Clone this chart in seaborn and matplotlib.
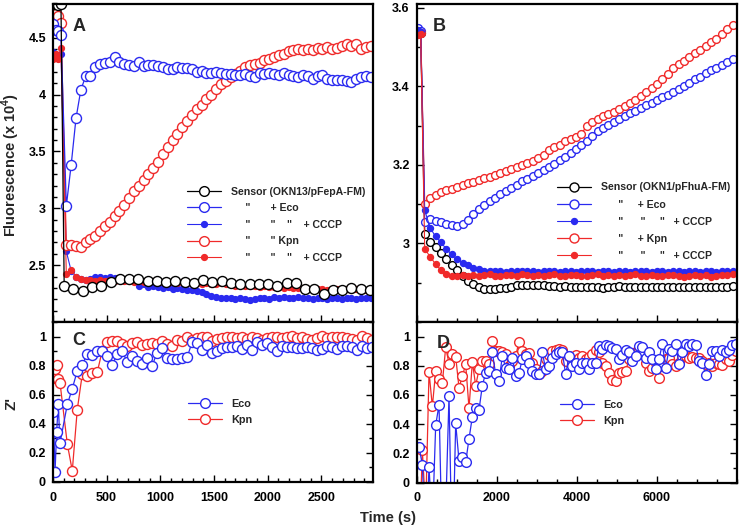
import numpy as np
import matplotlib
matplotlib.use("Agg")
import matplotlib.pyplot as plt
import seaborn as sns
from matplotlib.lines import Line2D
from matplotlib.ticker import MultipleLocator, FuncFormatter, FixedLocator

sns.set_style("ticks")
plt.rcParams["font.family"] = ["Liberation Sans", "DejaVu Sans"]
plt.rcParams["font.weight"] = "bold"
plt.rcParams["mathtext.fontset"] = "custom"
plt.rcParams["mathtext.rm"] = "Liberation Sans:bold"
plt.rcParams["mathtext.bf"] = "Liberation Sans:bold"

# ---------------- Panel A data (fluorescence x 10^4, OKN13/pFepA-FM) ----------------
tA_early = [0, 25, 50, 75]
A_black_early = [4.80, 4.80, 4.79, 4.80]
A_eco_early = [4.62, 4.57, 4.56, 4.52]
A_kpn_early = [4.66, 4.71, 4.69, 4.63]
A_eco_cccp_early = [4.37, 4.35, 4.33, 4.36]
A_kpn_cccp_early = [4.31, 4.36, 4.31, 4.41]

tA_start, tA_step = 125, 45          # sampling of the dense series
tA_black_start, tA_black_step = 105, 86.3

A_black = [2.32, 2.29, 2.27, 2.31, 2.32, 2.35, 2.375, 2.375, 2.38, 2.36,
           2.36, 2.35, 2.36, 2.35, 2.34, 2.37, 2.35, 2.36, 2.34, 2.33,
           2.33, 2.33, 2.33, 2.32, 2.34, 2.34, 2.29, 2.29, 2.25, 2.28,
           2.28, 2.30, 2.29, 2.28]
A_eco = [3.02, 3.38, 3.79, 4.04, 4.16, 4.165, 4.24, 4.27, 4.28, 4.29,
         4.33, 4.29, 4.27, 4.26, 4.25, 4.29, 4.25, 4.26, 4.26, 4.25,
         4.24, 4.22, 4.22, 4.24, 4.23, 4.23, 4.22, 4.20, 4.21, 4.19,
         4.19, 4.20, 4.19, 4.18, 4.18, 4.17, 4.17, 4.18, 4.16, 4.15,
         4.19, 4.18, 4.19, 4.18, 4.17, 4.19, 4.17, 4.16, 4.15, 4.17,
         4.16, 4.14, 4.16, 4.17, 4.14, 4.13, 4.13, 4.13, 4.12, 4.11,
         4.14, 4.15, 4.16, 4.15]
A_kpn = [2.68, 2.68, 2.67, 2.66, 2.70, 2.73, 2.76, 2.80, 2.84, 2.88,
         2.93, 2.98, 3.03, 3.09, 3.15, 3.20, 3.25, 3.30, 3.35, 3.41,
         3.48, 3.54, 3.60, 3.65, 3.71, 3.77, 3.82, 3.87, 3.91, 3.96,
         4.00, 4.05, 4.09, 4.12, 4.15, 4.18, 4.21, 4.24, 4.26, 4.27,
         4.28, 4.30, 4.31, 4.33, 4.35, 4.36, 4.38, 4.39, 4.40, 4.39,
         4.40, 4.39, 4.41, 4.40, 4.42, 4.40, 4.41, 4.43, 4.44, 4.43,
         4.44, 4.40, 4.42, 4.43]
A_eco_cccp = [2.62, 2.45, 2.40, 2.38, 2.37, 2.38, 2.40, 2.40, 2.39, 2.40,
              2.39, 2.38, 2.37, 2.38, 2.36, 2.32, 2.33, 2.31, 2.32, 2.31,
              2.30, 2.31, 2.29, 2.30, 2.29, 2.28, 2.28, 2.27, 2.26, 2.25,
              2.23, 2.22, 2.21, 2.21, 2.21, 2.20, 2.21, 2.20, 2.19, 2.20,
              2.21, 2.21, 2.20, 2.22, 2.21, 2.22, 2.21, 2.21, 2.22, 2.21,
              2.21, 2.20, 2.21, 2.21, 2.20, 2.21, 2.21, 2.20, 2.21, 2.21,
              2.20, 2.21, 2.21, 2.21]
A_kpn_cccp = [2.42, 2.46, 2.40, 2.38, 2.37, 2.37, 2.36, 2.37, 2.36, 2.37,
              2.36, 2.37, 2.36, 2.36, 2.35, 2.36, 2.35, 2.35, 2.36, 2.35,
              2.35, 2.34, 2.35, 2.34, 2.35, 2.34, 2.34, 2.34, 2.33, 2.34,
              2.33, 2.33, 2.34, 2.33, 2.33, 2.32, 2.33, 2.32, 2.32, 2.32,
              2.31, 2.32, 2.31, 2.31, 2.31, 2.30, 2.31, 2.30, 2.30, 2.30,
              2.29, 2.30, 2.29, 2.29, 2.28, 2.29, 2.29, 2.28, 2.29, 2.28,
              2.29, 2.28, 2.28, 2.28]

# ---------------- Panel B data (OKN1/pFhuA-FM) ----------------
tB_early = [40, 100]
B_black_early = [3.540, 3.536]
B_eco_early = [3.548, 3.541]
B_kpn_early = [3.535, 3.537]
B_eco_cccp_early = [3.545, 3.538]
B_kpn_cccp_early = [3.532, 3.534]
tB_start, tB_step = 200, 135

B_black = [3.025, 3.003, 2.990, 2.977, 2.960, 2.946, 2.932, 2.918, 2.905, 2.897,
           2.890, 2.884, 2.883, 2.884, 2.886, 2.887, 2.889, 2.893, 2.895, 2.894,
           2.893, 2.894, 2.893, 2.892, 2.891, 2.890, 2.891, 2.890, 2.889, 2.890,
           2.888, 2.889, 2.890, 2.887, 2.888, 2.890, 2.891, 2.889, 2.888, 2.890,
           2.889, 2.890, 2.888, 2.889, 2.890, 2.889, 2.888, 2.889, 2.890, 2.889,
           2.888, 2.889, 2.890, 2.889, 2.888, 2.889, 2.890, 2.891]
B_eco = [3.055, 3.062, 3.058, 3.054, 3.050, 3.046, 3.045, 3.050, 3.060, 3.075,
         3.087, 3.098, 3.108, 3.117, 3.126, 3.134, 3.142, 3.150, 3.158, 3.165,
         3.172, 3.180, 3.186, 3.194, 3.203, 3.212, 3.221, 3.230, 3.240, 3.250,
         3.262, 3.274, 3.286, 3.294, 3.302, 3.310, 3.318, 3.325, 3.332, 3.338,
         3.345, 3.352, 3.358, 3.365, 3.372, 3.379, 3.386, 3.394, 3.402, 3.410,
         3.418, 3.425, 3.433, 3.441, 3.448, 3.455, 3.462, 3.470]
B_kpn = [3.100, 3.115, 3.124, 3.130, 3.136, 3.140, 3.145, 3.149, 3.153, 3.157,
         3.161, 3.166, 3.170, 3.175, 3.180, 3.185, 3.189, 3.194, 3.199, 3.205,
         3.211, 3.217, 3.226, 3.237, 3.245, 3.252, 3.260, 3.266, 3.272, 3.278,
         3.300, 3.310, 3.318, 3.324, 3.330, 3.336, 3.342, 3.350, 3.358, 3.366,
         3.375, 3.385, 3.395, 3.405, 3.418, 3.432, 3.446, 3.456, 3.464, 3.474,
         3.484, 3.494, 3.503, 3.513, 3.522, 3.534, 3.546, 3.557]
B_eco_cccp = [3.085, 3.040, 3.018, 3.003, 2.986, 2.972, 2.960, 2.951, 2.944, 2.938,
              2.934, 2.931, 2.930, 2.929, 2.930, 2.928, 2.930, 2.929, 2.931, 2.929,
              2.930, 2.928, 2.929, 2.931, 2.929, 2.928, 2.930, 2.929, 2.928, 2.930,
              2.929, 2.931, 2.928, 2.929, 2.930, 2.928, 2.929, 2.930, 2.928, 2.929,
              2.931, 2.929, 2.928, 2.930, 2.929, 2.928, 2.930, 2.929, 2.928, 2.929,
              2.930, 2.928, 2.929, 2.930, 2.928, 2.929, 2.930, 2.929]
B_kpn_cccp = [2.987, 2.966, 2.948, 2.932, 2.922, 2.918, 2.917, 2.919, 2.918, 2.920,
              2.917, 2.919, 2.921, 2.918, 2.917, 2.920, 2.919, 2.918, 2.921, 2.919,
              2.917, 2.920, 2.918, 2.919, 2.921, 2.918, 2.917, 2.919, 2.920, 2.918,
              2.916, 2.919, 2.921, 2.918, 2.919, 2.917, 2.920, 2.918, 2.919, 2.921,
              2.918, 2.917, 2.919, 2.916, 2.918, 2.920, 2.919, 2.917, 2.914, 2.918,
              2.920, 2.917, 2.919, 2.915, 2.918, 2.920, 2.919, 2.921]

# ---------------- Panel C data (Z', pFepA sensor) ----------------
tC_early = [4, 20, 35, 50, 66]
C_eco_early = [0.479, 0.07, 0.347, 0.533, 0.267]
C_kpn_early = [0.718, 0.78, 0.803, 0.706, 0.683]
tC_start, tC_step = 134, 46.5
C_eco = [0.533, 0.642, 0.764, 0.806, 0.88, 0.873, 0.90, 0.90, 0.864, 0.803,
         0.88, 0.903, 0.822, 0.864, 0.835, 0.813, 0.85, 0.80, 0.89, 0.92,
         0.85, 0.845, 0.845, 0.85, 0.858, 0.961, 0.956, 0.91, 0.94, 0.89,
         0.90, 0.92, 0.93, 0.926, 0.937, 0.915, 0.94, 0.91, 0.965, 0.94,
         0.955, 0.926, 0.90, 0.937, 0.926, 0.93, 0.92, 0.92, 0.93, 0.92,
         0.91, 0.915, 0.937, 0.926, 0.915, 0.937, 0.937, 0.926, 0.91, 0.937,
         0.92, 0.93]
C_kpn = [0.262, 0.077, 0.498, 0.741, 0.729, 0.75, 0.755, 0.903, 0.961, 0.972,
         0.972, 0.95, 0.937, 0.955, 0.961, 0.943, 0.95, 0.955, 0.95, 0.972,
         0.95, 0.937, 0.978, 0.972, 0.996, 0.978, 0.99, 1.0, 0.996, 0.972,
         0.984, 0.99, 0.996, 0.996, 0.99, 0.996, 0.984, 0.996, 0.99, 0.978,
         0.99, 0.996, 0.996, 0.99, 0.996, 1.002, 0.99, 0.996, 0.984, 0.978,
         0.99, 1.002, 0.99, 0.996, 0.996, 0.996, 0.99, 0.984, 0.978, 1.005,
         0.99, 0.978]

# ---------------- Panel D data (Z', pFhuA sensor) ----------------
tD_start, tD_step = 58, 83.33
D_eco = [0.243, 0.123, -0.45, 0.104, -0.3, 0.393, 0.532, -0.5, -0.2, 0.595,
         -0.6, 0.405, 0.150, 0.174, 0.139, 0.30, 0.451, 0.509, 0.498, 0.664,
         0.752, 0.764, 0.891, 0.741, 0.694, 0.868, 0.787, 0.78, 0.856, 0.729,
         0.752, 0.845, 0.868, 0.822, 0.764, 0.741, 0.741, 0.891, 0.775, 0.80,
         0.856, 0.88, 0.891, 0.891, 0.741, 0.868, 0.80, 0.822, 0.775, 0.822,
         0.822, 0.775, 0.822, 0.822, 0.9375, 0.914, 0.942, 0.9375, 0.919, 0.914,
         0.845, 0.873, 0.91, 0.891, 0.833, 0.868, 0.9375, 0.93, 0.85, 0.891,
         0.845, 0.78, 0.845, 0.949, 0.787, 0.914, 0.903, 0.949, 0.81, 0.891,
         0.949, 0.9375, 0.949, 0.942, 0.833, 0.822, 0.734, 0.81, 0.903, 0.903,
         0.868, 0.91, 0.891, 0.91, 0.942, 0.95]
D_kpn = [-0.5, 0.22, -0.2, 0.757, 0.521, 0.764, 0.711, 0.683, 0.926, 0.815,
         0.884, 0.863, 0.648, 0.729, 0.81, 0.509, 0.826, 0.664, 0.775, 0.833,
         0.833, 0.81, 0.972, 0.903, 0.903, 0.891, 0.88, 0.80, 0.833, 0.868,
         0.965, 0.903, 0.88, 0.887, 0.822, 0.78, 0.741, 0.764, 0.845, 0.873,
         0.903, 0.91, 0.914, 0.91, 0.833, 0.868, 0.833, 0.873, 0.85, 0.868,
         0.845, 0.863, 0.88, 0.91, 0.891, 0.822, 0.80, 0.748, 0.701, 0.694,
         0.748, 0.757, 0.764, 0.845, 0.868, 0.891, 0.914, 0.891, 0.822, 0.764,
         0.787, 0.822, 0.718, 0.80, 0.845, 0.85, 0.81, 0.80, 0.822, 0.863,
         0.868, 0.856, 0.863, 0.856, 0.85, 0.833, 0.81, 0.822, 0.80, 0.822,
         0.81, 0.803, 0.845, 0.833, 0.873, 0.903]

legA_labels = ['Sensor (OKN13/pFepA-FM)',
               '     "       + Eco',
               '     "       "    "    + CCCP',
               '     "       " Kpn',
               '     "       "    "    + CCCP']
legB_labels = ['Sensor (OKN1/pFhuA-FM)',
               '      "     + Eco',
               '      "      "     "   + CCCP',
               '      "     + Kpn',
               '      "      "     "   + CCCP']
legZ_labels = ['Eco', 'Kpn']

x_ticks_AC = [0, 500, 1000, 1500, 2000, 2500]
x_ticks_BD = [0, 2000, 4000, 6000]

BLUE = '#2a2af0'
RED = '#f02a2a'
BLACK = '#000000'

W, H = 739, 530
fig = plt.figure(figsize=(W / 100, H / 100), dpi=100)


def rect(l, t, r, b):
    return [l / W, 1 - b / H, (r - l) / W, (b - t) / H]


axA = fig.add_axes(rect(52.9, 3.5, 372.7, 322))
axC = fig.add_axes(rect(52.9, 322, 372.7, 482))
axB = fig.add_axes(rect(416.7, 4, 736.7, 322))
axD = fig.add_axes(rect(416.7, 322, 736.7, 482.5))


def grid(start, step, n):
    return start + step * np.arange(n)


def series(ax, t, y, color, filled, ms, lw=0.9, z=2):
    sns.lineplot(x=np.asarray(t, float), y=np.asarray(y, float), ax=ax,
                 color=color, lw=lw, marker='o', markersize=ms,
                 markerfacecolor=color if filled else 'white',
                 markeredgecolor=color, markeredgewidth=1.0,
                 estimator=None, sort=False, legend=False, zorder=z)


# Panel A
tA = grid(tA_start, tA_step, len(A_eco))
tAb = grid(tA_black_start, tA_black_step, len(A_black))
series(axA, tA_early + list(tA), A_eco_cccp_early + A_eco_cccp, BLUE, True, 4.2, 0.8, 2)
series(axA, tA_early + list(tA), A_kpn_cccp_early + A_kpn_cccp, RED, True, 4.2, 0.8, 3)
series(axA, tA_early + list(tA), A_kpn_early + A_kpn, RED, False, 7.2, 0.9, 4)
series(axA, tA_early + list(tA), A_eco_early + A_eco, BLUE, False, 7.2, 0.9, 5)
series(axA, tA_early + list(tAb), A_black_early + A_black, BLACK, False, 7.2, 0.9, 6)

# Panel B
tB = list(grid(tB_start, tB_step, len(B_eco)))
series(axB, tB_early + tB, B_black_early + B_black, BLACK, False, 5.6, 0.9, 2)
series(axB, tB_early + tB, B_eco_early + B_eco, BLUE, False, 5.6, 0.9, 3)
series(axB, tB_early + tB, B_kpn_early + B_kpn, RED, False, 5.6, 0.9, 4)
series(axB, tB_early + tB, B_eco_cccp_early + B_eco_cccp, BLUE, True, 4.3, 0.8, 5)
series(axB, tB_early + tB, B_kpn_cccp_early + B_kpn_cccp, RED, True, 4.3, 0.8, 6)

# Panel C
tC = list(grid(tC_start, tC_step, len(C_eco)))
series(axC, tC_early + tC, C_kpn_early + C_kpn, RED, False, 7.2, 0.9, 2)
series(axC, tC_early + tC, C_eco_early + C_eco, BLUE, False, 7.2, 0.9, 3)

# Panel D
tD = grid(tD_start, tD_step, len(D_eco))
series(axD, tD, D_kpn, RED, False, 7.0, 0.9, 2)
series(axD, tD, D_eco, BLUE, False, 7.0, 0.9, 3)

fmt = FuncFormatter(lambda v, p: f"{v:g}")

for ax in (axA, axB, axC, axD):
    for s in ax.spines.values():
        s.set_linewidth(1.6)
        s.set_color('black')
        s.set_zorder(10)
    ax.set_xlabel('')
    ax.set_ylabel('')
    ax.tick_params(which='both', direction='in', color='black', width=1.0,
                   labelsize=9, labelcolor='black')
    ax.tick_params(which='major', length=5)
    ax.tick_params(which='minor', length=3)
    ax.tick_params(axis='y', pad=5)
    ax.tick_params(axis='x', pad=7)
    ax.yaxis.set_major_formatter(fmt)
    ax.xaxis.set_major_formatter(fmt)

axA.set_xlim(0, 2978)
axC.set_xlim(0, 2978)
axB.set_xlim(0, 8000)
axD.set_xlim(0, 8000)
axA.set_ylim(2.0, 4.8)
axB.set_ylim(2.8, 3.61)
axC.set_ylim(0, 1.1)
axD.set_ylim(0, 1.1)

for ax in (axA, axC):
    ax.xaxis.set_major_locator(FixedLocator(x_ticks_AC))
    ax.xaxis.set_minor_locator(MultipleLocator(100))
for ax in (axB, axD):
    ax.xaxis.set_major_locator(FixedLocator(x_ticks_BD))
    ax.xaxis.set_minor_locator(MultipleLocator(500))

axA.yaxis.set_major_locator(FixedLocator([2.5, 3.0, 3.5, 4.0, 4.5]))
axA.yaxis.set_minor_locator(MultipleLocator(0.1))
axB.yaxis.set_major_locator(FixedLocator([3.0, 3.2, 3.4, 3.6]))
axB.yaxis.set_minor_locator(MultipleLocator(0.1))
for ax in (axC, axD):
    ax.yaxis.set_major_locator(FixedLocator([0, 0.2, 0.4, 0.6, 0.8, 1.0]))
    ax.yaxis.set_minor_locator(MultipleLocator(0.1))
    ax.tick_params(axis='y', which='both', right=True)

axA.tick_params(axis='x', labelbottom=False)
axB.tick_params(axis='x', labelbottom=False)

# panel letters
for ax, letter, x, y in ((axA, 'A', 0.06, 0.955), (axB, 'B', 0.051, 0.956),
                         (axC, 'C', 0.06, 0.94), (axD, 'D', 0.063, 0.92)):
    ax.text(x, y, letter, transform=ax.transAxes, fontsize=13,
            fontweight='bold', ha='left', va='top', zorder=20)


def handle(color, filled, ms, lw):
    return Line2D([0], [0], color=color, lw=lw, marker='o', ms=ms,
                  mfc=color if filled else 'white', mec=color, mew=1.0)


hA = [handle(BLACK, False, 7.0, 0.9), handle(BLUE, False, 7.0, 0.9),
      handle(BLUE, True, 4.2, 0.8), handle(RED, False, 7.0, 0.9),
      handle(RED, True, 4.2, 0.8)]
hB = [handle(BLACK, False, 6.5, 0.9), handle(BLUE, False, 6.5, 0.9),
      handle(BLUE, True, 4.3, 0.8), handle(RED, False, 6.5, 0.9),
      handle(RED, True, 4.3, 0.8)]
hZ = [handle(BLUE, False, 7.0, 0.9), handle(RED, False, 7.0, 0.9)]

common = dict(frameon=False, borderpad=0, borderaxespad=0, loc='center left',
              bbox_transform=fig.transFigure)
legA = axA.legend(hA, legA_labels, bbox_to_anchor=(187 / W, 1 - 224.7 / H),
                  prop={'weight': 'bold', 'size': 7.6}, handlelength=3.2,
                  handletextpad=0.95, labelspacing=0.62, **common)
legB = axB.legend(hB, legB_labels, bbox_to_anchor=(557 / W, 1 - 221.7 / H),
                  prop={'weight': 'bold', 'size': 7.6}, handlelength=3.2,
                  handletextpad=0.95, labelspacing=0.68, **common)
legC = axC.legend(hZ, legZ_labels, bbox_to_anchor=(188 / W, 1 - 411.8 / H),
                  prop={'weight': 'bold', 'size': 7.8}, handlelength=3.1,
                  handletextpad=0.9, labelspacing=0.55, **common)
legD = axD.legend(hZ, legZ_labels, bbox_to_anchor=(560 / W, 1 - 412.9 / H),
                  prop={'weight': 'bold', 'size': 7.8}, handlelength=3.1,
                  handletextpad=0.9, labelspacing=0.55, **common)
for lg in (legA, legB, legC, legD):
    lg.set_zorder(30)

fig.text(11 / W, 1 - 165 / H, r'Fluorescence (x 10$^{\mathbf{4}}$)', rotation=90,
         ha='center', va='center', fontsize=10.5, fontweight='bold')
fig.text(11 / W, 1 - 403 / H, "Z'", rotation=90, ha='center', va='center',
         fontsize=11, fontweight='bold')
fig.text(388 / W, 1 - 518 / H, 'Time (s)', ha='center', va='center',
         fontsize=10.5, fontweight='bold')

fig.savefig('out.png', dpi=100)
